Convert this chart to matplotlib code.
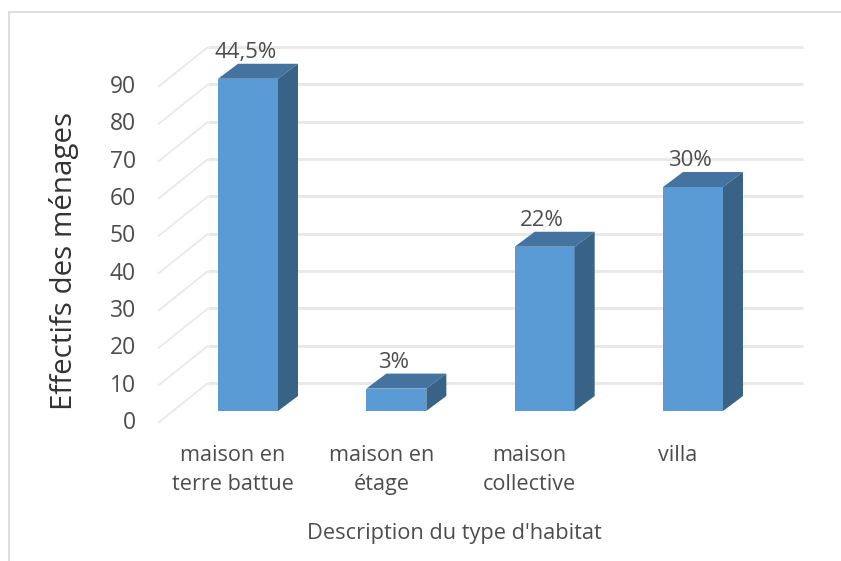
import matplotlib
matplotlib.use("Agg")
import matplotlib.pyplot as plt
from matplotlib.lines import Line2D
from matplotlib.transforms import ScaledTranslation

plt.rcParams['font.family'] = ['Open Sans', 'DejaVu Sans']

categories = ["maison en\nterre battue", "maison en\nétage", "maison\ncollective", "villa"]
effectifs = [89, 6, 44, 60]
pourcentages = ["44,5%", "3%", "22%", "30%"]
y_ticks = [0, 10, 20, 30, 40, 50, 60, 70, 80, 90]

W, H, DPI = 841, 561, 100
TEXT = '#4d4d4d'
FRONT, TOP, SIDE = '#5b9bd5', '#44739f', '#386286'
GRID = '#e9e9e9'

# px -> data scales of the axes
PX_X = 148.33
PX_Y = 3.733

fig = plt.figure(figsize=(W / DPI, H / DPI), dpi=DPI, facecolor='white')
ax = fig.add_axes([158 / W, (H - 423) / H, (803 - 158) / W, (423 - 47) / H])
ax.set_xlim((158 - 248) / PX_X, (803 - 248) / PX_X)
ax.set_ylim(0, 376 / PX_Y)
for s in ax.spines.values():
    s.set_visible(False)

# depth of the fake 3D box
wall_dx, wall_dy = 50 / PX_X, 40 / PX_Y
base = 12 / PX_Y
bar_w = 60 / PX_X
bar_dx, bar_dy = 20 / PX_X, 15 / PX_Y

# floor/wall lines, front edge to back wall then right
x_left = ax.get_xlim()[0]
x_right = ax.get_xlim()[1]
for v in y_ticks:
    ax.plot([x_left, x_left + wall_dx], [v, v + wall_dy], color=GRID, lw=1.3, zorder=1,
            solid_capstyle='butt', clip_on=False)
    ax.plot([x_left + wall_dx, x_right], [v + wall_dy, v + wall_dy], color=GRID, lw=2.2, zorder=1,
            solid_capstyle='butt', clip_on=False)

for i, v in enumerate(effectifs):
    x0 = i - bar_w / 2
    x1 = i + bar_w / 2
    y0 = base
    y1 = base + v
    ax.fill([x0, x1, x1, x0], [y0, y0, y1, y1], color=FRONT, lw=0, zorder=3)
    ax.fill([x0, x1, x1 + bar_dx, x0 + bar_dx], [y1, y1, y1 + bar_dy, y1 + bar_dy], color=TOP, lw=0, zorder=3)
    ax.fill([x1, x1 + bar_dx, x1 + bar_dx, x1], [y0, y0 + bar_dy, y1 + bar_dy, y1], color=SIDE, lw=0, zorder=3)
    ax.annotate(pourcentages[i], (i, y1), xytext=(-2, 19), textcoords='offset points',
                ha='center', va='center', fontsize=16, color=TEXT, zorder=4)

ax.set_yticks(y_ticks)
ax.set_yticklabels([str(t) for t in y_ticks], fontsize=16.5, color=TEXT)
ax.set_xticks(range(len(categories)))
ax.set_xticklabels(categories, fontsize=15.6, color=TEXT, linespacing=1.5)
ax.tick_params(axis='y', length=0, pad=16)
ax.tick_params(axis='x', length=0, pad=16)

# Excel labels sit a bit off the tick positions
for lab in ax.get_yticklabels():
    lab.set_transform(lab.get_transform() + ScaledTranslation(0, 3 / DPI, fig.dpi_scale_trans))
for lab in ax.get_xticklabels():
    lab.set_transform(lab.get_transform() + ScaledTranslation(-15 / DPI, 0, fig.dpi_scale_trans))

fig.text(64 / W, 1 - 261 / H, "Effectifs des ménages", rotation=90, ha='center', va='center',
         fontsize=21.3, color='#333333')
fig.text(454 / W, 1 - 534 / H, "Description du type d'habitat", ha='center', va='center',
         fontsize=15.7, color=TEXT)

# chart frame, only top and left visible in the crop
fig.add_artist(Line2D([9 / W, 9 / W], [0, 1 - 12 / H], color='#d9d9d9', lw=1.2))
fig.add_artist(Line2D([9 / W, 1], [1 - 12 / H, 1 - 12 / H], color='#d9d9d9', lw=1.2))

fig.savefig("out.png", dpi=DPI, facecolor='white')
